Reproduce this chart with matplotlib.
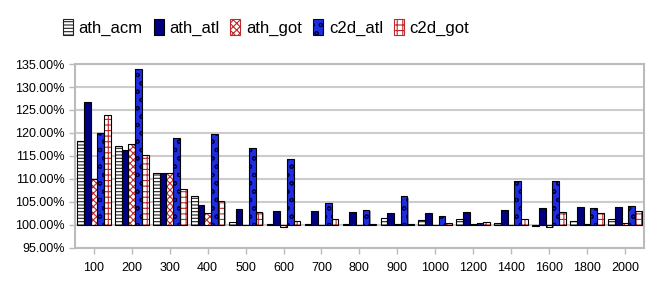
import matplotlib
matplotlib.use("Agg")
import matplotlib.pyplot as plt
import numpy as np
from matplotlib.patches import Patch

plt.rcParams['font.family'] = ['Liberation Sans', 'DejaVu Sans']
plt.rcParams['hatch.linewidth'] = 0.8

categories = ["100", "200", "300", "400", "500", "600", "700", "800", "900",
              "1000", "1200", "1400", "1600", "1800", "2000"]
ath_acm = [118.3, 117.2, 111.3, 106.3, 100.6, 100.1, 100.1, 100.1, 101.6, 101.1, 101.4, 100.4, 99.8, 100.8, 101.4]
ath_atl = [126.7, 116.4, 111.4, 104.4, 103.4, 103.1, 103.0, 102.9, 102.7, 102.5, 102.8, 103.3, 103.6, 104.0, 103.8]
ath_got = [109.9, 117.6, 111.2, 102.5, 100.0, 99.5, 100.0, 100.0, 100.1, 100.0, 100.2, 100.0, 99.6, 100.1, 100.4]
c2d_atl = [120.1, 133.9, 118.9, 119.8, 116.7, 114.3, 104.7, 103.3, 106.2, 102.0, 100.5, 109.5, 109.5, 103.7, 104.1]
c2d_got = [123.9, 115.3, 107.9, 105.2, 102.8, 100.9, 101.2, 100.1, 100.1, 100.4, 100.6, 101.3, 102.8, 102.5, 103.1]
series_names = ["ath_acm", "ath_atl", "ath_got", "c2d_atl", "c2d_got"]
yticks = [95, 100, 105, 110, 115, 120, 125, 130, 135]

series = [ath_acm, ath_atl, ath_got, c2d_atl, c2d_got]
styles = [
    dict(face="white", hatch="-----", hcol="#222222"),
    dict(face="#000080", hatch=None, hcol="#000080"),
    dict(face="white", hatch="xxxxx", hcol="#c0282a"),
    dict(face="#1c2ee0", hatch="oo", hcol="#000050"),
    dict(face="white", hatch="+++", hcol="#c0282a"),
]

fig = plt.figure(figsize=(6.57, 2.91), dpi=100)
ax = fig.add_axes([0.114, 0.148, 0.866, 0.632])

x = np.arange(len(categories))
bw = 0.177
base = 100.0
for i, (vals, st) in enumerate(zip(series, styles)):
    pos = x + (i - 2) * bw
    h = np.array(vals) - base
    # shadow
    ax.bar(pos + 0.03, h, bw, bottom=base - 0.25, color="#999999", linewidth=0, zorder=2)
    ax.bar(pos, h, bw, bottom=base, facecolor=st["face"], hatch=st["hatch"],
           edgecolor=st["hcol"], linewidth=0, zorder=3)
    ax.bar(pos, h, bw, bottom=base, fill=False, edgecolor="black", linewidth=0.8, zorder=4)

ax.set_xlim(-0.5, len(categories) - 0.5)
ax.set_ylim(95, 135)
ax.set_yticks(yticks)
ax.set_yticklabels([f"{v:.2f}%" for v in yticks], fontsize=9)
ax.set_xticks(x)
ax.set_xticklabels(categories, fontsize=9)
ax.grid(axis="y", color="#cccccc", linewidth=1.5, zorder=0)
ax.set_axisbelow(True)
for s in ax.spines.values():
    s.set_color("#bbbbbb")
    s.set_linewidth(1.5)
ax.tick_params(axis="both", colors="#bbbbbb", labelcolor="black", length=4, width=1)
ax.tick_params(axis="x", pad=6)

handles = [Patch(facecolor=st["face"], hatch=st["hatch"], edgecolor=st["hcol"] if st["hatch"] else "black",
                 linewidth=0.8) for st in styles]
fig.legend(handles, series_names, loc="center", bbox_to_anchor=(0.405, 0.905), ncol=5,
           frameon=False, fontsize=12, handlelength=0.6, handleheight=1.1,
           handletextpad=0.35, columnspacing=0.65)

fig.savefig("out.png", dpi=100)
